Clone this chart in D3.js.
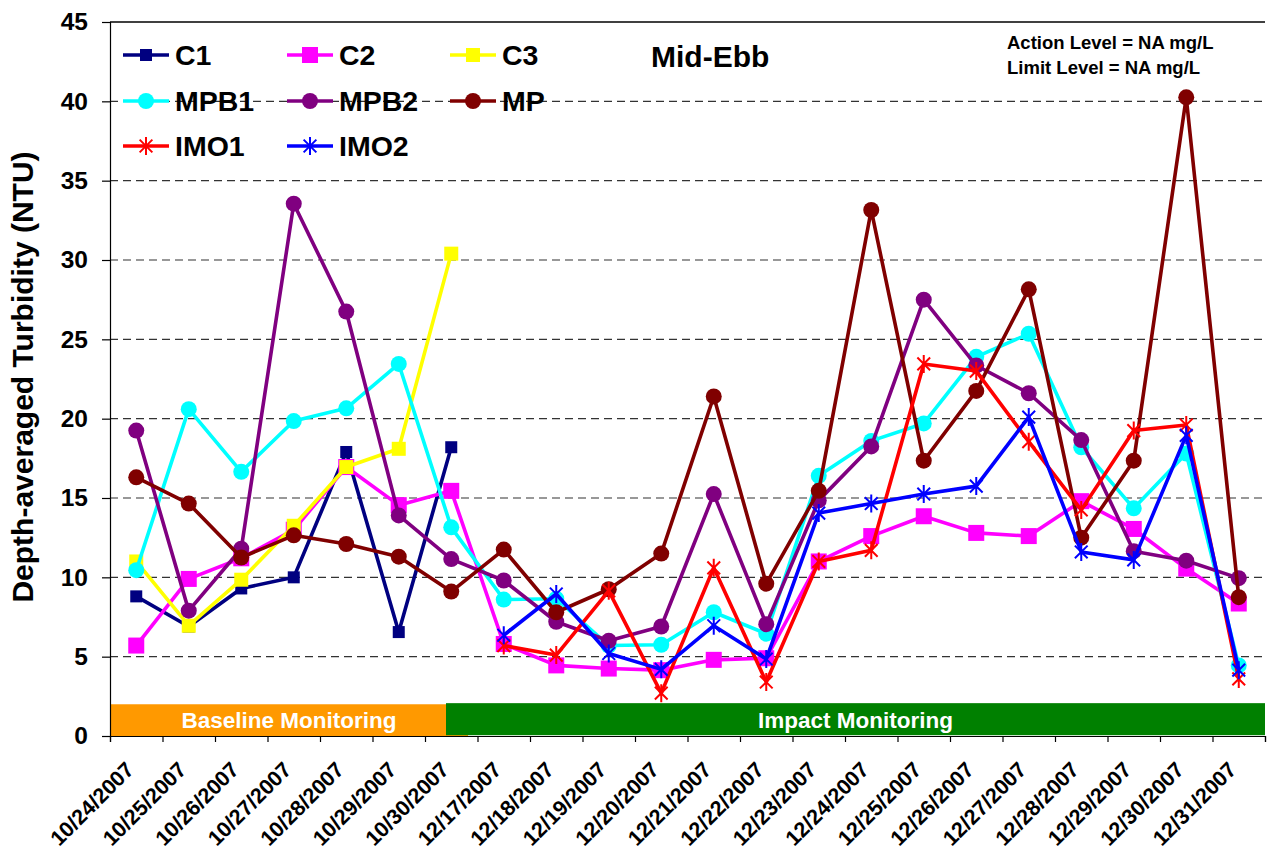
<!DOCTYPE html>
<html>
<head>
<meta charset="utf-8">
<script src="https://cdn.jsdelivr.net/npm/d3@7"></script>
<style>
  html, body { margin: 0; padding: 0; background: #fff; }
  svg { display: block; }
  text { font-family: "Liberation Sans", Arial, sans-serif; font-weight: bold; }
</style>
</head>
<body>
<svg id="chart" width="1267" height="854"></svg>
<script>
const categories = ["10/24/2007","10/25/2007","10/26/2007","10/27/2007","10/28/2007","10/29/2007","10/30/2007",
  "12/17/2007","12/18/2007","12/19/2007","12/20/2007","12/21/2007","12/22/2007","12/23/2007","12/24/2007",
  "12/25/2007","12/26/2007","12/27/2007","12/28/2007","12/29/2007","12/30/2007","12/31/2007"];
const N = null;
const C1   = [8.8, 6.9, 9.3, 10.0, 17.9, 6.55, 18.2, N,N,N,N,N,N,N,N,N,N,N,N,N,N,N];
const C2   = [5.7, 9.9, 11.2, 13.0, 16.95, 14.55, 15.45, 5.8, 4.45, 4.25, 4.15, 4.8, 4.9, 11.0, 12.6, 13.85, 12.8, 12.6, 14.8, 13.05, 10.55, 8.35];
const C3   = [11.0, 6.95, 9.85, 13.25, 16.95, 18.1, 30.4, N,N,N,N,N,N,N,N,N,N,N,N,N,N,N];
const MPB1 = [10.45, 20.6, 16.65, 19.85, 20.65, 23.45, 13.15, 8.6, 8.65, 5.7, 5.75, 7.8, 6.45, 16.4, 18.6, 19.7, 23.9, 25.35, 18.2, 14.35, 17.8, 4.45];
const MPB2 = [19.25, 7.9, 11.8, 33.55, 26.75, 13.9, 11.15, 9.8, 7.2, 6.0, 6.9, 15.25, 7.05, 14.85, 18.25, 27.5, 23.35, 21.6, 18.65, 11.65, 11.05, 9.95];
const MP   = [16.3, 14.65, 11.25, 12.65, 12.1, 11.3, 9.1, 11.75, 7.8, 9.25, 11.5, 21.4, 9.6, 15.45, 33.15, 17.35, 21.75, 28.15, 12.5, 17.35, 40.25, 8.75];
const IMO1 = [N,N,N,N,N,N,N, 5.7, 5.1, 9.15, 2.7, 10.6, 3.4, 11.0, 11.7, 23.45, 23.0, 18.55, 14.25, 19.25, 19.6, 3.6];
const IMO2 = [N,N,N,N,N,N,N, 6.35, 8.95, 5.2, 4.2, 6.95, 4.85, 14.05, 14.65, 15.25, 15.75, 20.1, 11.6, 11.1, 18.95, 4.15];
const yTicks = [0,5,10,15,20,25,30,35,40,45];
// monitoring phases: [start, end] in category-index units, [bottom, top] in NTU
const phaseLabels = ["Baseline Monitoring", "Impact Monitoring"];
const phaseStart  = [0, 6.4];
const phaseEnd    = [6.82, 22];
const phaseBottom = [0, 0.05];
const phaseTop    = [2.0, 2.07];

const series = [
  {name:"C1",   values:C1,   color:"#000080", marker:"square", size:12},
  {name:"C2",   values:C2,   color:"#FF00FF", marker:"square", size:16},
  {name:"C3",   values:C3,   color:"#FFFF00", marker:"square", size:14},
  {name:"MPB1", values:MPB1, color:"#00FFFF", marker:"circle", size:8},
  {name:"MPB2", values:MPB2, color:"#800080", marker:"circle", size:8},
  {name:"MP",   values:MP,   color:"#800000", marker:"circle", size:8},
  {name:"IMO1", values:IMO1, color:"#FF0000", marker:"star",   size:9},
  {name:"IMO2", values:IMO2, color:"#0000FF", marker:"star",   size:9}
];

const svg = d3.select("#chart");
const m = {left:110, right:1265, top:22, bottom:736};

const x = d3.scaleBand().domain(categories).range([m.left, m.right]).padding(0);
const xi = d3.scaleLinear().domain([0, categories.length]).range([m.left, m.right]);
const y = d3.scaleLinear().domain([0,45]).range([m.bottom, m.top]);
const cx = i => x(categories[i]) + x.bandwidth()/2;

// gridlines
svg.append("g").selectAll("line").data(yTicks.filter(t => t>0 && t<45)).join("line")
  .attr("x1", m.left).attr("x2", m.right)
  .attr("y1", d => y(d)).attr("y2", d => y(d))
  .attr("stroke", "#333").attr("stroke-width", 1.2).attr("stroke-dasharray", "8,5");
// top border
svg.append("line").attr("x1", m.left).attr("x2", m.right).attr("y1", y(45)).attr("y2", y(45))
  .attr("stroke", "#000").attr("stroke-width", 1.3);

// phase bars (orange first, green over)
const phaseColors = ["#FF9900", "#008000"];
phaseLabels.forEach((lab, i) => {
  svg.append("rect")
    .attr("x", xi(phaseStart[i])).attr("width", xi(phaseEnd[i]) - xi(phaseStart[i]))
    .attr("y", y(phaseTop[i])).attr("height", y(phaseBottom[i]) - y(phaseTop[i]))
    .attr("fill", phaseColors[i]);
});
phaseLabels.forEach((lab, i) => {
  const c = (xi(phaseStart[i]) + xi(phaseEnd[i])) / 2;
  svg.append("text").attr("x", c).attr("y", y(1.0) + 8)
    .attr("text-anchor", "middle").attr("fill", "#fff").attr("font-size", 22.5).text(lab);
});

// axes
const yAxis = d3.axisLeft(y).tickValues(yTicks).tickSize(8).tickPadding(14).tickFormat(d3.format("d"));
const gy = svg.append("g").attr("transform", `translate(${m.left},0)`).call(yAxis);
gy.select(".domain").attr("stroke", "#000").attr("stroke-width", 1.2);
gy.selectAll(".tick line").attr("stroke", "#000").attr("stroke-width", 1.2);
gy.selectAll(".tick text").attr("font-size", 24.5).attr("font-family", "Liberation Sans, Arial").attr("font-weight", "bold").attr("fill", "#000");

const xAxis = d3.axisBottom(xi).tickValues(d3.range(0, categories.length + 1)).tickSize(6).tickFormat("");
const gx = svg.append("g").attr("transform", `translate(0,${m.bottom})`).call(xAxis);
gx.select(".domain").attr("stroke", "#000").attr("stroke-width", 1.2);
gx.selectAll(".tick line").attr("stroke", "#000").attr("stroke-width", 1.2);

svg.append("g").selectAll("text").data(categories).join("text")
  .attr("transform", d => `translate(${x(d) + x.bandwidth()/2 - 1},${m.bottom + 35}) rotate(-45)`)
  .attr("text-anchor", "end").attr("font-size", 21.5).attr("fill", "#000").text(d => d);

// y title
svg.append("text").attr("transform", `translate(33,377) rotate(-90)`)
  .attr("text-anchor", "middle").attr("font-size", 30).attr("fill", "#000")
  .text("Depth-averaged Turbidity (NTU)");

// lines and markers
function drawMarker(g, s, px, py) {
  if (s.marker === "square") {
    g.append("rect").attr("x", px - s.size/2).attr("y", py - s.size/2)
      .attr("width", s.size).attr("height", s.size).attr("fill", s.color);
  } else if (s.marker === "circle") {
    g.append("circle").attr("cx", px).attr("cy", py).attr("r", s.size).attr("fill", s.color);
  } else {
    const r = s.size, a = r * Math.SQRT1_2;
    const p = d3.path();
    p.moveTo(px, py - r); p.lineTo(px, py + r);
    p.moveTo(px - a, py - a); p.lineTo(px + a, py + a);
    p.moveTo(px - a, py + a); p.lineTo(px + a, py - a);
    g.append("path").attr("d", p.toString()).attr("stroke", s.color).attr("stroke-width", 2).attr("fill", "none");
  }
}

const line = d3.line().defined(d => d.v !== null).x(d => cx(d.i)).y(d => y(d.v));
series.forEach(s => {
  const g = svg.append("g");
  const pts = s.values.map((v, i) => ({v, i}));
  g.append("path").attr("d", line(pts)).attr("fill", "none")
    .attr("stroke", s.color).attr("stroke-width", 3.6).attr("stroke-linejoin", "round");
  pts.filter(d => d.v !== null).forEach(d => drawMarker(g, s, cx(d.i), y(d.v)));
});

// legend
const legCols = [123, 287, 450];
const legRows = [55, 101, 146];
series.forEach((s, k) => {
  const lx = legCols[k % 3], ly = legRows[Math.floor(k / 3)];
  const g = svg.append("g");
  g.append("line").attr("x1", lx).attr("x2", lx + 46).attr("y1", ly).attr("y2", ly)
    .attr("stroke", s.color).attr("stroke-width", 3.6);
  drawMarker(g, s, lx + 23, ly);
  g.append("text").attr("x", lx + 52).attr("y", ly + 10).attr("font-size", 28.5).attr("fill", "#000").text(s.name);
});

svg.append("text").attr("x", 651).attr("y", 67).attr("font-size", 30).attr("fill", "#000").text("Mid-Ebb");
svg.append("text").attr("x", 1007).attr("y", 49).attr("font-size", 18.5).attr("fill", "#000").text("Action Level = NA mg/L");
svg.append("text").attr("x", 1007).attr("y", 74).attr("font-size", 18.5).attr("fill", "#000").text("Limit Level = NA mg/L");
</script>
</body>
</html>
